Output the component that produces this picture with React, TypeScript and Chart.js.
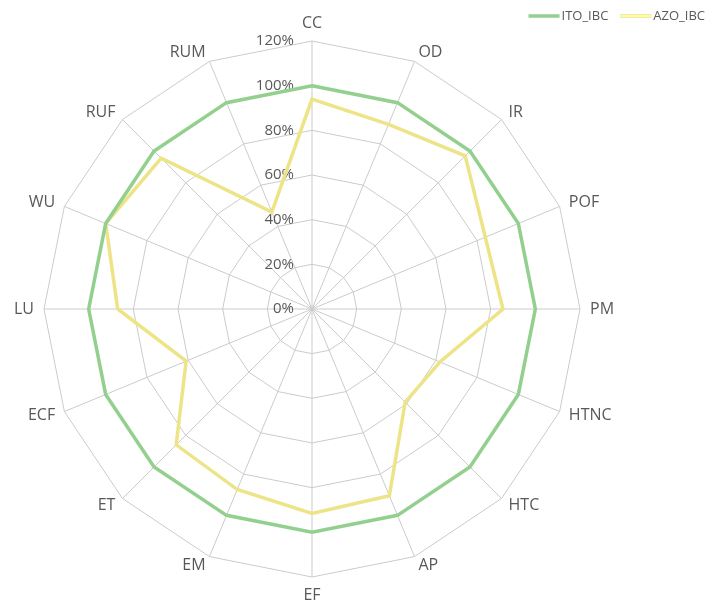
import React, { useEffect, useRef } from 'react';
import { Chart, registerables } from 'chart.js';

Chart.register(...registerables);

const categories = ['CC', 'OD', 'IR', 'POF', 'PM', 'HTNC', 'HTC', 'AP', 'EF', 'EM', 'ET', 'ECF', 'LU', 'WU', 'RUF', 'RUM'];
const itoIbc = [100, 100, 100, 100, 100, 100, 100, 100, 100, 100, 100, 100, 100, 100, 100, 100];
const azoIbc = [94, 89.5, 97, 84, 85.5, 62, 59, 90.5, 91.5, 87.5, 86, 61, 87, 100, 95.5, 47];
const seriesNames = ['ITO_IBC', 'AZO_IBC'];
const scaleMin = 0;
const scaleMax = 120;
const scaleStep = 20;

const FONT = '"Open Sans", "Noto Sans", sans-serif';
const TEXT = '#595959';
const GREEN = '#93D08F';
const YELLOW_EDGE = '#EDE487';
const YELLOW_FILL = '#FFFAA8';
const GRID = '#CBCBCB';

const labelsPlugin = {
  id: 'excelLabels',
  beforeDatasetsDraw(chart: any) {
    const s = chart.scales.r;
    const ctx = chart.ctx;
    ctx.save();
    ctx.fillStyle = TEXT;
    // tick labels, right aligned left of the vertical axis
    ctx.font = `15px ${FONT}`;
    ctx.textAlign = 'right';
    ctx.textBaseline = 'middle';
    s.ticks.forEach((t: any) => {
      const d = s.getDistanceFromCenterForValue(t.value);
      ctx.fillText(t.label, s.xCenter - 18, s.yCenter - d);
    });
    // point labels
    ctx.font = `16px ${FONT}`;
    const labels: string[] = chart.data.labels;
    labels.forEach((lab, i) => {
      const a = s.getIndexAngle(i);
      const p = s.getPointPosition(i, s.drawingArea + 10);
      const sn = Math.sin(a);
      const cs = Math.cos(a);
      if (Math.abs(sn) < 0.01) {
        ctx.textAlign = 'center';
        ctx.textBaseline = cs > 0 ? 'bottom' : 'top';
      } else {
        ctx.textAlign = sn > 0 ? 'left' : 'right';
        ctx.textBaseline = 'middle';
      }
      ctx.fillText(lab, p.x, p.y);
    });
    ctx.restore();
  },
};

const legendPlugin = {
  id: 'topRightLegend',
  afterDraw(chart: any) {
    const ctx = chart.ctx;
    const items = chart.data.datasets.filter((d: any) => !d.legendSkip);
    ctx.save();
    ctx.font = `13px ${FONT}`;
    ctx.textBaseline = 'middle';
    ctx.textAlign = 'left';
    const lineLen = 31;
    const gap = 2;
    const spacing = 12;
    const y = 16;
    let x = 705;
    const pos: number[] = [];
    for (let i = items.length - 1; i >= 0; i--) {
      const w = ctx.measureText(items[i].label).width;
      x -= w + gap + lineLen;
      pos[i] = x;
      x -= spacing;
    }
    items.forEach((d: any, i: number) => {
      const x0 = pos[i];
      if (d.legendEdge) {
        ctx.strokeStyle = d.legendEdge;
        ctx.lineWidth = d.legendEdgeWidth;
        ctx.beginPath();
        ctx.moveTo(x0, y);
        ctx.lineTo(x0 + lineLen, y);
        ctx.stroke();
      }
      ctx.strokeStyle = d.borderColor;
      ctx.lineWidth = d.borderWidth;
      ctx.beginPath();
      ctx.moveTo(x0, y);
      ctx.lineTo(x0 + lineLen, y);
      ctx.stroke();
      ctx.fillStyle = TEXT;
      ctx.fillText(d.label, x0 + lineLen + gap, y);
    });
    ctx.restore();
  },
};

export default function App() {
  const ref = useRef<HTMLCanvasElement | null>(null);
  useEffect(() => {
    if (!ref.current) return;
    const chart = new Chart(ref.current, {
      type: 'radar',
      data: {
        labels: categories,
        datasets: [
          {
            label: seriesNames[0],
            data: itoIbc,
            borderColor: GREEN,
            borderWidth: 3.5,
            pointRadius: 0,
            fill: false,
            tension: 0,
          },
          {
            label: '_azo_edge',
            legendSkip: true,
            data: azoIbc,
            borderColor: YELLOW_EDGE,
            borderWidth: 3.5,
            pointRadius: 0,
            fill: false,
            tension: 0,
          } as any,
          {
            label: seriesNames[1],
            legendEdge: YELLOW_EDGE,
            legendEdgeWidth: 3.5,
            data: azoIbc,
            borderColor: YELLOW_FILL,
            borderWidth: 2,
            pointRadius: 0,
            fill: false,
            tension: 0,
          } as any,
        ],
      },
      options: {
        responsive: true,
        maintainAspectRatio: false,
        animation: false,
        layout: { padding: { top: 41, bottom: 31, left: 0, right: 88 } },
        plugins: {
          legend: { display: false },
          tooltip: { enabled: false },
        },
        scales: {
          r: {
            min: scaleMin,
            max: scaleMax,
            ticks: {
              stepSize: scaleStep,
              display: false,
              callback: (v: any) => `${v}%`,
            },
            grid: { color: GRID, lineWidth: 1, circular: false },
            angleLines: { color: GRID, lineWidth: 1 },
            pointLabels: { display: false },
          },
        },
      },
      plugins: [labelsPlugin, legendPlugin],
    });
    return () => chart.destroy();
  }, []);
  return (
    <div style={{ position: 'fixed', left: 0, top: 0, width: 712, height: 608, background: '#fff' }}>
      <canvas ref={ref} />
    </div>
  );
}
